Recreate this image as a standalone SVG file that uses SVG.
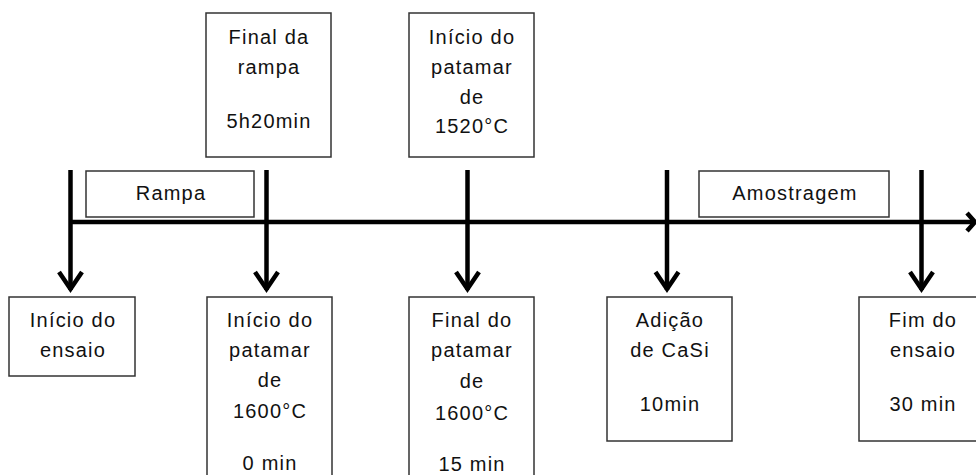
<svg xmlns="http://www.w3.org/2000/svg" width="976" height="475" viewBox="0 0 976 475">
<style>
.box{fill:#fff;stroke:#333;stroke-width:1.5}
.t{font-family:"Liberation Sans",Arial,sans-serif;font-size:20px;fill:#111;text-anchor:middle;letter-spacing:1.2px}
.ln{stroke:#000;stroke-width:4.5;fill:none}
.ah{stroke:#000;stroke-width:4.5;fill:none;stroke-linejoin:miter;stroke-linecap:butt}
</style>
<rect width="976" height="475" fill="#fff"/>
<g id="connectors">
<line class="ln" x1="70.5" y1="222" x2="974" y2="222"/>
<polyline class="ah" points="967,213 975,222 967,231"/>
<line class="ln" x1="70.5" y1="170" x2="70.5" y2="290"/>
<polyline class="ah" points="59,272 70.5,289 82,272"/>
<line class="ln" x1="266.5" y1="170" x2="266.5" y2="290"/>
<polyline class="ah" points="255,272 266.5,289 278,272"/>
<line class="ln" x1="467.5" y1="170" x2="467.5" y2="290"/>
<polyline class="ah" points="456,272 467.5,289 479,272"/>
<line class="ln" x1="667" y1="170" x2="667" y2="290"/>
<polyline class="ah" points="655.5,272 667,289 678.5,272"/>
<line class="ln" x1="921.5" y1="170" x2="921.5" y2="290"/>
<polyline class="ah" points="910,272 921.5,289 933,272"/>
</g>
<g id="final-rampa">
<rect class="box" x="206" y="13" width="125" height="144"/>
<text class="t" x="269" y="44">Final da</text>
<text class="t" x="269" y="74">rampa</text>
<text class="t" x="269" y="128">5h20min</text>
</g>
<g id="inicio-1520">
<rect class="box" x="409" y="13" width="125" height="144"/>
<text class="t" x="472" y="44">Início do</text>
<text class="t" x="472" y="74">patamar</text>
<text class="t" x="472" y="104">de</text>
<text class="t" x="472" y="133">1520°C</text>
</g>
<g id="rampa">
<rect class="box" x="86" y="171" width="168" height="46"/>
<text class="t" x="171" y="200">Rampa</text>
</g>
<g id="amostragem">
<rect class="box" x="699" y="171" width="190" height="46"/>
<text class="t" x="795" y="200">Amostragem</text>
</g>
<g id="inicio-ensaio">
<rect class="box" x="9" y="297" width="126" height="79"/>
<text class="t" x="73" y="327">Início do</text>
<text class="t" x="73" y="357">ensaio</text>
</g>
<g id="inicio-1600">
<rect class="box" x="207" y="297" width="125" height="200"/>
<text class="t" x="270" y="327">Início do</text>
<text class="t" x="270" y="357">patamar</text>
<text class="t" x="270" y="387">de</text>
<text class="t" x="270" y="418">1600°C</text>
<text class="t" x="270" y="470">0 min</text>
</g>
<g id="final-1600">
<rect class="box" x="409" y="297" width="125" height="200"/>
<text class="t" x="472" y="327">Final do</text>
<text class="t" x="472" y="357">patamar</text>
<text class="t" x="472" y="388">de</text>
<text class="t" x="472" y="420">1600°C</text>
<text class="t" x="472" y="471">15 min</text>
</g>
<g id="adicao">
<rect class="box" x="607" y="297" width="125" height="144"/>
<text class="t" x="670" y="327">Adição</text>
<text class="t" x="670" y="357">de CaSi</text>
<text class="t" x="670" y="411">10min</text>
</g>
<g id="fim-ensaio">
<rect class="box" x="859" y="297" width="126" height="144"/>
<text class="t" x="923" y="327">Fim do</text>
<text class="t" x="923" y="357">ensaio</text>
<text class="t" x="923" y="411">30 min</text>
</g>
</svg>
